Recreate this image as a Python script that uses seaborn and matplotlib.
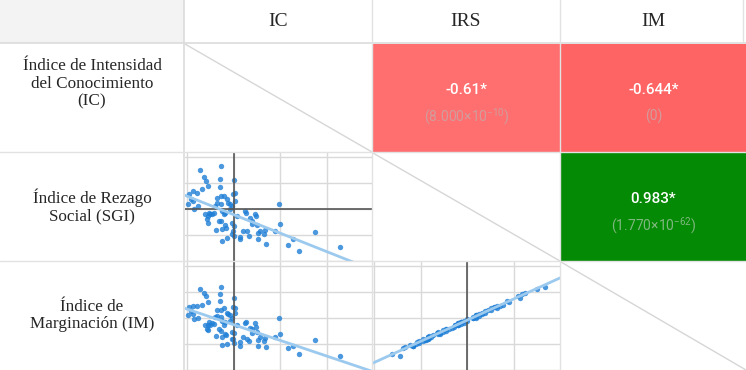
import matplotlib.pyplot as plt
import seaborn as sns
import pandas as pd

sns.set_style("white")

# standardized indicator values per unit
ic = [-0.71, -0.27, -0.64, -0.60, -0.55, -0.30, -0.30, 0.01, -0.01, 0.02,
      -0.96, -0.87, -0.78, -0.67, -0.91, -0.87, -0.98, -0.85, -0.77, -0.35,
      -0.28, -0.21, -0.14, -0.11, -0.35, -0.39, -0.28, -0.07, -0.04, -0.53,
      -0.50, -0.55, -0.57, -0.55, -0.46, -0.43, -0.25, -0.21, -0.18, -0.28,
      -0.32, -0.18, -0.37, -0.25, -0.16, -0.04, 0.00, -0.01, -0.04, 0.00,
      -0.25, -0.14, 0.14, 0.13, 0.21, 0.28, 0.25, 0.27, 0.35, 0.39,
      0.46, 0.48, 0.50, 0.53, 0.57, 0.67, 0.70, 0.53, 0.32, 0.96,
      0.99, 0.89, 1.28, 1.16, 1.40, 1.74, 2.27, -0.62, 0.04, -0.07,
      0.07, 0.39, 0.64]
irs = [1.49, 1.65, 1.23, 1.08, 0.88, 1.17, 0.85, 1.12, 0.59, 0.63,
       0.56, 0.69, 0.63, 0.76, 0.37, 0.31, 0.18, -0.01, 0.12, 0.44,
       0.50, 0.50, 0.37, 0.24, 0.24, 0.12, 0.18, 0.18, 0.12, -0.14,
       -0.21, -0.27, -0.40, -0.53, -0.21, -0.14, -0.08, -0.21, -0.14, -0.46,
       -0.46, -0.62, -0.82, -0.78, -0.74, -0.53, -0.65, -0.85, -0.95, -1.04,
       -1.23, -1.10, -1.08, -1.17, -0.85, -0.85, -0.08, -0.14, -0.33, -0.46,
       -0.21, -0.29, -0.62, -0.91, -0.85, -0.82, -1.33, -1.17, -1.04, 0.18,
       -0.59, -0.85, -1.17, -1.38, -1.62, -0.88, -1.45, -0.21, 0.31, -0.01,
       -0.27, -0.59, -0.95]
im = [1.10, 1.19, 0.96, 0.84, 0.60, 0.93, 0.66, 0.78, 0.44, 0.39,
      0.42, 0.45, 0.47, 0.50, 0.26, 0.14, 0.10, -0.05, -0.02, 0.31,
      0.29, 0.37, 0.18, 0.15, 0.07, 0.05, 0.03, 0.11, -0.01, -0.15,
      -0.29, -0.26, -0.44, -0.47, -0.21, -0.23, -0.10, -0.28, -0.16, -0.49,
      -0.41, -0.62, -0.70, -0.75, -0.64, -0.55, -0.57, -0.81, -0.82, -0.96,
      -1.03, -1.01, -0.91, -1.07, -0.73, -0.80, -0.18, -0.15, -0.39, -0.42,
      -0.21, -0.35, -0.54, -0.86, -0.74, -0.78, -1.12, -1.06, -0.89, -0.01,
      -0.60, -0.73, -1.07, -1.16, -1.40, -0.83, -1.48, -0.27, 0.20, -0.12,
      -0.26, -0.59, -0.88]

col_names = ["IC", "IRS", "IM"]
row_labels = ["Índice de Intensidad\ndel Conocimiento\n(IC)",
              "Índice de Rezago\nSocial (SGI)",
              "Índice de\nMarginación (IM)"]
corr_cells = [(0, 1, "-0.61*", "(8.000×10$^{-10}$)", "#ff6f6f"),
              (0, 2, "-0.644*", "(0)", "#ff6464"),
              (1, 2, "0.983*", "(1.770×10$^{-62}$)", "#058a05")]

df = pd.DataFrame({"IC": ic, "IRS": irs, "IM": im})

W, H = 746, 370
col_x = [184, 372, 560, 746]
row_y = [43, 152, 261, 370]
lims = {"IC": (-1.04, 2.96), "IRS": (-2.0, 2.15), "IM": (-2.0, 2.15)}
xlims = {"IC": (-1.04, 2.96), "IRS": (-2.02, 1.98)}

fig = plt.figure(figsize=(W / 100, H / 100), dpi=100)
serif = ["Liberation Serif", "DejaVu Serif"]
narrow = ["Roboto", "DejaVu Sans"]
plt.rcParams["mathtext.fontset"] = "custom"
plt.rcParams["mathtext.rm"] = "Roboto"


def box(x0, y0, x1, y1):
    return fig.add_axes([x0 / W, 1 - y1 / H, (x1 - x0) / W, (y1 - y0) / H])


# header row
ax = box(0, 0, 184, 43)
ax.set_facecolor("#f3f3f3")
ax.set_xticks([]); ax.set_yticks([])
for s in ax.spines.values():
    s.set_visible(False)
for j, name in enumerate(col_names):
    fig.text((col_x[j] + col_x[j + 1]) / 2 / W, 1 - 21 / H, name,
             ha="center", va="center", fontsize=14, family=serif)

for i, lab in enumerate(row_labels):
    yc = (row_y[i] + row_y[i + 1]) / 2 - (14 if i == 0 else 0)
    fig.text(92 / W, 1 - yc / H, lab, ha="center", va="center",
             fontsize=12.3, family=serif, linespacing=1.15)

rows = ["IC", "IRS", "IM"]
for i in range(3):
    for j in range(3):
        ax = box(col_x[j] + 1, row_y[i] + 1, col_x[j + 1], row_y[i + 1])
        ax.set_xticks([]); ax.set_yticks([])
        for s in ax.spines.values():
            s.set_visible(False)
        if i == j:
            ax.plot([0, 1], [1, 0], color="#d6d6d6", lw=1)
            ax.set_xlim(0, 1); ax.set_ylim(0, 1)
        elif j > i:
            for (r, c, val, p, colr) in corr_cells:
                if (r, c) == (i, j):
                    ax.set_facecolor(colr)
                    pcol = "#d29c9c" if colr != "#058a05" else "#7fb87f"
                    ax.text(0.5, 0.57, val, ha="center", va="center",
                            color="white", fontsize=11, family=narrow,
                            fontweight="medium")
                    ax.text(0.5, 0.33, p, ha="center", va="center",
                            color=pcol, fontsize=10, family=narrow)
        else:
            xv, yv = col_names[j], rows[i]
            ax.set_xlim(*xlims[xv]); ax.set_ylim(*lims[yv])
            ax.set_xticks(range(-2, 4)); ax.set_yticks(range(-2, 3))
            ax.grid(True, color="#d9d9d9", lw=1)
            ax.tick_params(length=0, labelbottom=False, labelleft=False)
            if xv in ("IC", "IRS"):
                ax.axvline(0, color="#555555", lw=1.2)
            if yv == "IRS":
                ax.axhline(0, color="#555555", lw=1.2)
            sns.regplot(data=df, x=xv, y=yv, ax=ax, ci=None, truncate=False,
                        scatter_kws={"s": 15, "color": "#1f7fd6", "linewidths": 0},
                        line_kws={"color": "#9ccaee", "lw": 2})
            ax.set_xlabel(""); ax.set_ylabel("")
            ax.set_xlim(*xlims[xv]); ax.set_ylim(*lims[yv])

# cell separators
line_ax = fig.add_axes([0, 0, 1, 1])
line_ax.set_xlim(0, W); line_ax.set_ylim(H, 0); line_ax.axis("off")
line_ax.patch.set_alpha(0)
line_ax.axhline(43, color="#dcdcdc", lw=1.2)
line_ax.axvline(184, color="#dcdcdc", lw=1.2)
for x in col_x[1:3]:
    line_ax.plot([x, x], [0, H], color="#e2e2e2", lw=1)
for y in row_y[1:3]:
    line_ax.plot([0, W], [y, y], color="#e2e2e2", lw=1)
line_ax.plot([743, 743], [0, 43], color="#e2e2e2", lw=1)

fig.savefig("out.png", dpi=100)
